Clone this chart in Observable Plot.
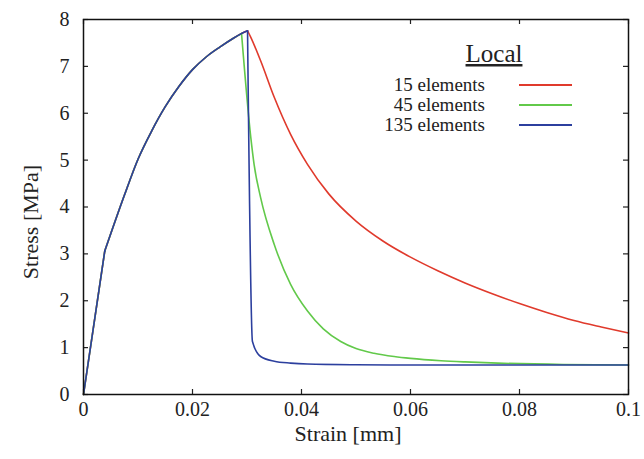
<!DOCTYPE html>
<html>
<head>
<meta charset="utf-8">
<script src="https://cdn.jsdelivr.net/npm/d3@7"></script>
<script src="https://cdn.jsdelivr.net/npm/@observablehq/plot@0.6"></script>
<style>
  html, body { margin: 0; padding: 0; background: #fff; }
  #wrap { position: relative; width: 644px; height: 459px; }
  #legend { position: absolute; left: 0; top: 0; pointer-events: none; }
</style>
</head>
<body>
<div id="wrap"></div>
<script>
// ---- data ----
const xTicks = [0, 0.02, 0.04, 0.06, 0.08, 0.1];
const xTickLabels = ["0", "0.02", "0.04", "0.06", "0.08", "0.1"];
const yTicks = [0, 1, 2, 3, 4, 5, 6, 7, 8];
const seriesNames = ["15 elements", "45 elements", "135 elements"];
const seriesColors = ["#e03a2c", "#62c94a", "#2c3f9e"];

// shared elastic + hardening branch
const riseStrain = [0, 0.0039, 0.0075, 0.0100, 0.0125, 0.0150, 0.0175, 0.0200, 0.0225, 0.0250, 0.0275];
const riseStress = [0, 3.06, 4.25, 5.02, 5.62, 6.14, 6.57, 6.93, 7.20, 7.41, 7.60];

// 15 elements (peak + softening)
const strain15 = [0.0290, 0.0301, 0.0307, 0.0325, 0.0350, 0.0380, 0.0411, 0.0450, 0.0500, 0.0550, 0.0600, 0.0650, 0.0700, 0.0750, 0.0800, 0.0850, 0.0900, 0.0950, 0.1000];
const stress15 = [7.70, 7.76, 7.62, 7.12, 6.34, 5.55, 4.91, 4.28, 3.70, 3.27, 2.93, 2.64, 2.38, 2.15, 1.94, 1.75, 1.58, 1.44, 1.31];

// 45 elements (peak + softening)
const strain45 = [0.0290, 0.0307, 0.0313, 0.0325, 0.0350, 0.0380, 0.0411, 0.0440, 0.0472, 0.0500, 0.0533, 0.0570, 0.0600, 0.0656, 0.0700, 0.0760, 0.0880, 0.1000];
const stress45 = [7.70, 5.48, 4.91, 4.20, 3.20, 2.35, 1.78, 1.40, 1.13, 0.98, 0.88, 0.81, 0.77, 0.72, 0.695, 0.67, 0.64, 0.63];

// 135 elements (peak + softening)
const strain135 = [0.0290, 0.0301, 0.0310, 0.0325, 0.0350, 0.0380, 0.0411, 0.0500, 0.0600, 0.1000];
const stress135 = [7.70, 7.76, 1.13, 0.81, 0.71, 0.67, 0.65, 0.635, 0.63, 0.63];

const seriesStrain = [strain15, strain45, strain135];
const seriesStress = [stress15, stress45, stress135];

// build pieces: elastic (linear), hardening up to peak, softening after peak
const pieces = [];
seriesNames.forEach((name, s) => {
  const xs = riseStrain.concat(seriesStrain[s]);
  const ys = riseStress.concat(seriesStress[s]);
  const pk = ys.indexOf(Math.max(...ys));
  const mk = (a, b, part) => xs.slice(a, b).map((x, i) => ({series: name, part, x, y: ys[a + i]}));
  pieces.push({name, curve: "linear", pts: mk(0, 2, "elastic")});
  pieces.push({name, curve: "monotone-x", pts: mk(1, pk + 1, "hardening")});
  pieces.push({name, curve: "monotone-x", pts: mk(pk, xs.length, "softening")});
});

// ---- layout ----
const W = 644, H = 459;
const mL = 83, mR = 16, mT = 19, mB = 65;
const pW = W - mL - mR, pH = H - mT - mB;
const tickLen = 5;
const font = "Liberation Serif, Times New Roman, serif";

const chart = Plot.plot({
  width: W, height: H,
  marginLeft: mL, marginRight: mR, marginTop: mT, marginBottom: mB,
  style: {fontFamily: font, fontSize: "20px", color: "#222", background: "#fff"},
  x: {domain: [0, 0.1]},
  y: {domain: [0, 8]},
  color: {domain: seriesNames, range: seriesColors},
  marks: [
    Plot.axisX(xTicks, {tickSize: 0, tickPadding: 7, label: null, fontSize: 20, tickFormat: d => xTickLabels[xTicks.indexOf(d)]}),
    Plot.axisY(yTicks, {tickSize: 0, tickPadding: 14, label: null, fontSize: 20}),
    Plot.tickX(xTicks, {x: d => d, insetTop: pH - tickLen, stroke: "#222", strokeWidth: 1.2}),
    Plot.tickX(xTicks, {x: d => d, insetBottom: pH - tickLen, stroke: "#222", strokeWidth: 1.2}),
    Plot.tickY(yTicks, {y: d => d, insetRight: pW - tickLen, stroke: "#222", strokeWidth: 1.2}),
    Plot.tickY(yTicks, {y: d => d, insetLeft: pW - tickLen, stroke: "#222", strokeWidth: 1.2}),
    ...pieces.map(p => Plot.line(p.pts, {x: "x", y: "y", stroke: "series", strokeWidth: 1.6, curve: p.curve})),
    Plot.frame({stroke: "#111", strokeWidth: 1.5}),
    Plot.text(["Strain [mm]"], {frameAnchor: "bottom", dx: -8, dy: 46, fontSize: 22, fill: "#222"}),
    Plot.text(["Stress [MPa]"], {frameAnchor: "left", textAnchor: "middle", rotate: -90, dx: -53, dy: 15, fontSize: 22, fill: "#222"})
  ]
});

const wrap = document.getElementById("wrap");
wrap.appendChild(chart);

// ---- legend overlay ----
const ns = "http://www.w3.org/2000/svg";
const lg = document.createElementNS(ns, "svg");
lg.setAttribute("id", "legend");
lg.setAttribute("width", W);
lg.setAttribute("height", H);
const title = document.createElementNS(ns, "text");
title.setAttribute("x", 494);
title.setAttribute("y", 62);
title.setAttribute("text-anchor", "middle");
title.setAttribute("font-family", font);
title.setAttribute("font-size", "25");
title.setAttribute("fill", "#222");
title.setAttribute("text-decoration", "underline");
title.textContent = "Local";
lg.appendChild(title);
seriesNames.forEach((name, i) => {
  const t = document.createElementNS(ns, "text");
  t.setAttribute("x", 485);
  t.setAttribute("y", 91 + i * 20);
  t.setAttribute("text-anchor", "end");
  t.setAttribute("font-family", font);
  t.setAttribute("font-size", "19");
  t.setAttribute("fill", "#222");
  t.textContent = name;
  lg.appendChild(t);
  const l = document.createElementNS(ns, "line");
  l.setAttribute("x1", 519); l.setAttribute("x2", 572);
  l.setAttribute("y1", 85 + i * 20); l.setAttribute("y2", 85 + i * 20);
  l.setAttribute("stroke", seriesColors[i]);
  l.setAttribute("stroke-width", 1.8);
  lg.appendChild(l);
});
wrap.appendChild(lg);
</script>
</body>
</html>
